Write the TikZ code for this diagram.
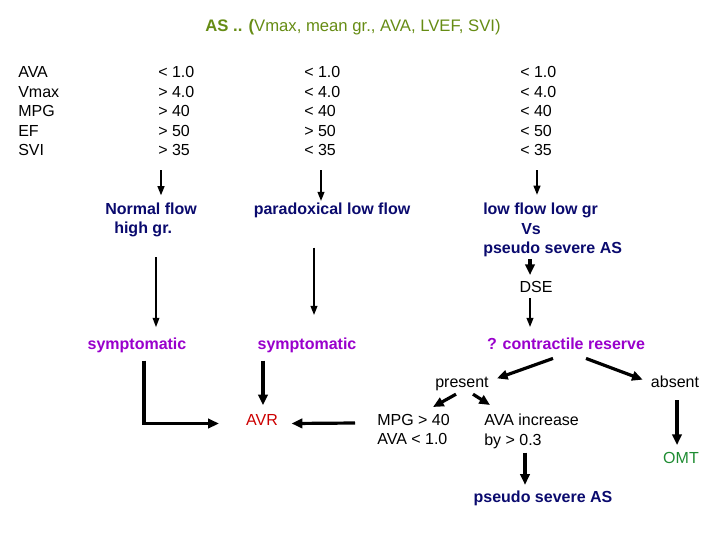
\documentclass[tikz,border=0pt]{standalone}
\usepackage{fontspec}
\setmainfont{Liberation Sans}
\usetikzlibrary{arrows.meta,calc}
\definecolor{titlegreen}{RGB}{102,140,20}
\definecolor{navy}{RGB}{10,10,110}
\definecolor{violet}{RGB}{153,0,204}
\definecolor{avrred}{RGB}{204,0,0}
\definecolor{omtgreen}{RGB}{30,140,50}
\tikzset{
  navy txt/.style={text=navy,font=\fontsize{12}{14.6}\selectfont\bfseries},
  violet txt/.style={text=violet,font=\fontsize{12}{14.6}\selectfont\bfseries},
  link/.style={line width=1.5pt,-{Triangle[length=7pt,width=5pt]}},
  thin link/.style={link,line width=1pt},
  heavy link/.style={line width=2.4pt,-{Triangle[length=8pt,width=7pt]}}
}
\begin{document}
\begin{tikzpicture}[x=0.75pt,y=-0.75pt,
  every node/.style={inner sep=0pt,font=\fontsize{12}{14.6}\selectfont}]
\useasboundingbox (0,0) rectangle (720,540);
\node[anchor=base,text=titlegreen,font=\fontsize{12.5}{15}\selectfont] (title) at (353,31)
  {\textbf{AS .. (}Vmax, mean gr., AVA, LVEF, SVI)};
\node[anchor=north west,align=left] (lab) at (18,66.5) {AVA\\Vmax\\MPG\\EF\\SVI};
\node[anchor=north west,align=left] (v1) at (158,66.5) {< 1.0\\> 4.0\\> 40\\> 50\\> 35};
\node[anchor=north west,align=left] (v2) at (304,66.5) {< 1.0\\< 4.0\\< 40\\> 50\\< 35};
\node[anchor=north west,align=left] (v3) at (520,66.5) {< 1.0\\< 4.0\\< 40\\< 50\\< 35};
\node[navy txt,anchor=north west,align=left] (nf) at (105,202.5) {Normal flow\\\hspace*{6.75pt}high gr.};
\node[navy txt,anchor=base] (pl) at (332,214) {paradoxical low flow};
\node[navy txt,anchor=north west,align=left] (lf) at (483,203)
  {low flow low gr\\\hspace*{28.5pt}Vs\\pseudo severe AS};
\node[anchor=base] (dse) at (536,292) {DSE};
\node[violet txt,anchor=base] (s1) at (137,349) {symptomatic};
\node[violet txt,anchor=base] (s2) at (307,349) {symptomatic};
\node[violet txt,anchor=base] (cr) at (566,349) {? contractile reserve};
\node[anchor=base] (pr) at (462,387) {present};
\node[anchor=base] (ab) at (675,387) {absent};
\node[anchor=base,text=avrred] (avr) at (262,425) {AVR};
\node[anchor=north west,align=left] (mpg) at (377,414) {MPG > 40\\AVA < 1.0};
\node[anchor=north west,align=left] (ai) at (484,414) {AVA increase\\by > 0.3};
\node[anchor=base,text=omtgreen] (omt) at (681,463) {OMT};
\node[navy txt,anchor=base] (ps) at (543,502) {pseudo severe AS};

\draw[link] ($(v1.south west)+(3,14)$) -- ($(v1.south west |- nf.north)+(3,-7)$);
\draw[link] ($(v2.south west)+(17,14)$) -- ($(v2.south west |- pl.north)+(17,-1)$);
\draw[link] ($(v3.south west)+(17,14)$) -- ($(v3.south west |- lf.north)+(17,-8)$);
\draw[thin link] ($(nf.south west)+(51,20)$) -- ($(nf.south west |- s1.north)+(51,-10)$);
\draw[link] ($(pl.south)+(-18,30)$) -- ($(pl.south |- s2.north)+(-18,-22)$);
\draw[heavy link] ($(lf.south west |- lf.south)+(47,2)$) -- ($(dse.north)+(-6,-5.5)$);
\draw[link] ($(dse.south)+(-6,6)$) -- ($(dse.south |- cr.north)+(-6,-10)$);
\draw[heavy link] ($(s1.south)+(7,8)$) |- ($(avr.west)+(-27,4)$);
\draw[heavy link] ($(avr.north |- s2.south)+(1,8)$) -- ($(avr.north)+(1,-8.5)$);
\draw[heavy link] ($(mpg.north west)+(-22,9)$) -- ($(avr.east)+(13.5,4)$);
\draw[heavy link] ($(cr.south)+(-13,9)$) -- ($(pr.north east)+(8,2)$);
\draw[heavy link] ($(cr.south)+(20,9)$) -- ($(ab.north west)+(-8,4.5)$);
\draw[heavy link] ($(pr.south)+(-6,3.6)$) -- ($(mpg.north west)+(56,-7)$);
\draw[heavy link] ($(pr.south)+(11,3.6)$) -- ($(ai.north west)+(6,-9)$);
\draw[heavy link] ($(ab.south)+(2,13)$) -- ($(ab.south |- omt.north)+(2,-6.5)$);
\draw[heavy link] ($(ai.south west)+(41,3.6)$) -- ($(ai.south west |- ps.north)+(41,-5.3)$);
\end{tikzpicture}
\end{document}
